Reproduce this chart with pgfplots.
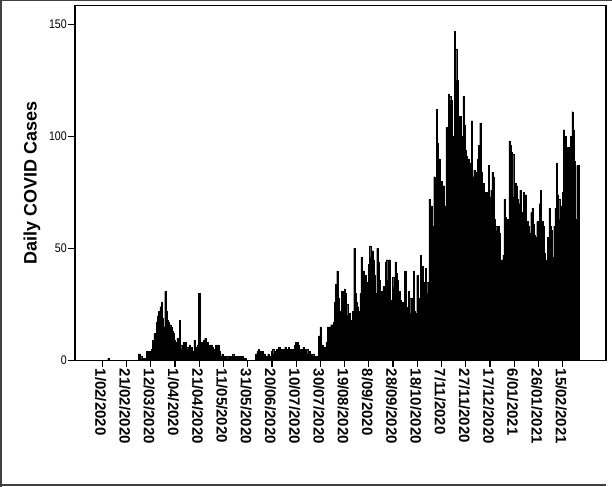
\documentclass[border=0pt]{standalone}
\usepackage{fontspec}
\setmainfont{Liberation Sans}
\newfontfamily\condfont[FakeStretch=0.85]{Liberation Sans}
\usepackage{pgfplots}
\pgfplotsset{compat=1.18}
\begin{document}
\begin{tikzpicture}
\useasboundingbox (0,0) rectangle (612bp,487bp);
\fill[white] (0,0) rectangle (612bp,487bp);
\draw[black!75, line width=1.5bp] (1bp,0) -- (1bp,487bp);
\draw[black!75, line width=1.5bp] (0,486.3bp) -- (612bp,486.3bp);
\draw[black!75, line width=1.5bp] (0,2bp) -- (606bp,2bp);
\begin{axis}[
  at={(75bp,126.5bp)}, anchor=south west,
  scale only axis, width=531bp, height=355.2bp,
  xmin=-22.5, xmax=415.7, ymin=0, ymax=158.5,
  ybar, bar width=1,
  axis line style={black, line width=1.2bp},
  tick style={black, line width=1.2bp},
  major tick length=7bp, tick align=outside, tick pos=left,
  xtick={0,20,...,380},
  xticklabels={1/02/2020,21/02/2020,12/03/2020,1/04/2020,21/04/2020,11/05/2020,31/05/2020,20/06/2020,10/07/2020,30/07/2020,19/08/2020,8/09/2020,28/09/2020,18/10/2020,7/11/2020,27/11/2020,17/12/2020,6/01/2021,26/01/2021,15/02/2021},
  xticklabel style={rotate=-90, anchor=west, font=\bfseries\fontsize{15bp}{17bp}\selectfont, inner sep=1bp, yshift=-1.5bp},
  ytick={0,50,100,150},
  /pgf/number format/assume math mode=true,
  yticklabel style={font=\condfont\fontsize{12.5bp}{14bp}\selectfont, inner sep=1bp},
  ylabel={Daily COVID Cases},
  ylabel style={at={(axis description cs:-0.081,0.5)}, anchor=center, font=\bfseries\fontsize{18bp}{20bp}\selectfont},
]
\addplot[fill=black, draw=black, line width=0.25bp] coordinates {
(5,1)
(30,3)(31,3)(32,2)(33,1)(34,1)(36,1)(37,4)(38,4)(39,3)
(40,4)(41,5)(42,9)(43,12)(44,12)(45,17)(46,20)(47,22)(48,24)(49,26)
(50,19)(51,15)(52,31)(53,22)(54,18)(55,17)(56,16)(57,15)(58,13)(59,12)
(60,9)(61,8)(62,10)(63,7)(64,18)(65,7)(66,5)(67,8)(68,6)(69,8)
(70,6)(71,5)(72,7)(73,4)(74,6)(75,4)(76,9)(77,6)(78,5)(79,7)
(80,30)(81,7)(82,8)(83,6)(84,9)(85,10)(86,6)(87,8)(88,5)(89,7)
(90,7)(91,6)(92,3)(93,5)(94,7)(95,6)(96,7)(97,4)(98,2)(99,3)
(100,1)(101,2)(102,1)(103,2)(104,1)(105,2)(106,1)(107,2)(108,3)(109,2)
(110,1)(111,2)(112,1)(113,2)(114,2)(115,1)(116,2)(117,1)(118,1)
(127,3)(128,4)(129,5)
(130,4)(131,3)(132,4)(133,2)(134,3)(135,1)(136,2)(137,3)(138,2)(139,1)
(140,4)(141,5)(142,3)(143,4)(144,5)(145,4)(146,6)(147,5)(148,3)(149,5)
(150,5)(151,6)(152,4)(153,5)(154,6)(155,5)(156,5)(157,4)(158,5)(159,7)
(160,8)(161,8)(162,7)(163,5)(164,4)(165,5)(166,6)(167,5)(168,4)(169,5)
(170,3)(171,4)(172,3)(173,2)(174,3)(175,2)(176,2)(177,2)(178,2)(179,11)
(180,15)(181,7)(182,7)(183,6)(184,6)(185,8)(186,15)(187,15)(188,15)(189,16)
(190,16)(191,17)(192,26)(193,34)(194,40)(195,28)(196,22)(197,17)(198,31)(199,28)
(200,32)(201,30)(202,25)(203,20)(204,21)(205,17)(206,18)(207,22)(208,50)(209,30)
(210,26)(211,24)(212,22)(213,30)(214,46)(215,36)(216,40)(217,38)(218,32)(219,35)
(220,43)(221,51)(222,46)(223,49)(224,45)(225,38)(226,30)(227,50)(228,44)(229,36)
(230,30)(231,31)(232,33)(233,32)(234,44)(235,45)(236,36)(237,45)(238,27)(239,27)
(240,37)(241,33)(242,44)(243,39)(244,36)(245,31)(246,27)(247,26)(248,25)(249,26)
(250,40)(251,24)(252,23)(253,31)(254,28)(255,21)(256,28)(257,40)(258,22)(259,21)
(260,38)(261,28)(262,25)(263,47)(264,42)(265,35)(266,25)(267,41)(268,35)(269,30)
(270,72)(271,69)(272,69)(273,60)(274,82)(275,80)(276,112)(277,97)(278,90)(279,78)
(280,80)(281,70)(282,78)(283,69)(284,104)(285,103)(286,119)(287,118)(288,116)(289,95)
(290,100)(291,147)(292,139)(293,125)(294,109)(295,108)(296,109)(297,100)(298,118)(299,105)
(300,94)(301,91)(302,90)(303,88)(304,85)(305,107)(306,82)(307,85)(308,84)(309,79)
(310,90)(311,96)(312,106)(313,84)(314,79)(315,79)(316,75)(317,67)(318,75)(319,87)
(320,73)(321,76)(322,84)(323,82)(324,63)(325,60)(326,58)(327,60)(328,57)(329,33)
(330,45)(331,47)(332,72)(333,64)(334,63)(335,63)(336,98)(337,96)(338,93)(339,92)
(340,73)(341,79)(342,78)(343,72)(344,70)(345,76)(346,66)(347,64)(348,75)(349,74)
(350,51)(351,62)(352,60)(353,57)(354,66)(355,68)(356,61)(357,56)(358,55)(359,62)
(360,62)(361,70)(362,76)(363,62)(364,60)(365,48)(366,45)(367,43)(368,55)(369,68)
(370,60)(371,58)(372,46)(373,60)(374,68)(375,88)(376,74)(377,72)(378,63)(379,69)
(380,75)(381,103)(382,100)(383,95)(384,76)(385,95)(386,95)(387,100)(388,111)(389,103)
(390,89)(391,63)(392,87)(393,87)
};
\end{axis}
\end{tikzpicture}
\end{document}
